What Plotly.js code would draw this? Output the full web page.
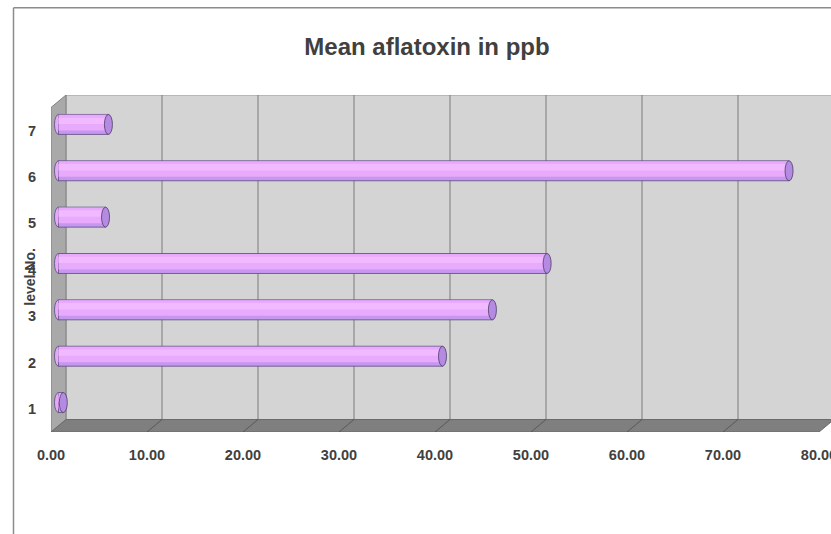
<!DOCTYPE html>
<html>
<head>
<meta charset="utf-8">
<script src="https://cdn.plot.ly/plotly-3.0.1.min.js"></script>
<style>html,body{margin:0;padding:0;background:#fff;}#chart{width:831px;height:534px;}</style>
</head>
<body>
<div id="chart"></div>
<script>
// ---- data ----
const categories = [1, 2, 3, 4, 5, 6, 7];
const values = [0.5, 40.0, 45.2, 50.9, 4.9, 76.1, 5.2];
const xTickVals = [0, 10, 20, 30, 40, 50, 60, 70, 80];
const xTickText = ['0.00', '10.00', '20.00', '30.00', '40.00', '50.00', '60.00', '70.00', '80.00'];
const yTickText = ['1', '2', '3', '4', '5', '6', '7'];
const chartTitle = 'Mean aflatoxin in ppb';
const yTitle = 'level No.';

// ---- geometry (pixels) ----
const L = 51, T = 95, B = 101.5, FIGW = 831, FIGH = 534;
const W = FIGW - L, H = FIGH - T - B;
const PX = 9.6;          // px per x unit
const PY = 325 / 7;      // px per category
const DXP = 15, DYP = 12.5; // 3-D depth offset
const dx = DXP / PX, dy = DYP / PY;
const xMax = W / PX, yMax = 0.5 + H / PY;
const barH = 20 / PY, capRx = 4 / PX;
const textColor = '#404040';
const fam = 'Liberation Sans, Arial, sans-serif';

const px2paperX = p => (p - L) / W;
const px2paperY = p => (T + H - p) / H;

const shapes = [];
// outer frame
shapes.push({type: 'line', xref: 'paper', yref: 'paper', x0: px2paperX(13.5), x1: px2paperX(13.5), y0: px2paperY(7.5), y1: px2paperY(540), line: {color: '#8c8c8c', width: 1.5}, layer: 'below'});
shapes.push({type: 'line', xref: 'paper', yref: 'paper', x0: px2paperX(13.5), x1: px2paperX(840), y0: px2paperY(7.5), y1: px2paperY(7.5), line: {color: '#8c8c8c', width: 1.5}, layer: 'below'});
// back wall
shapes.push({type: 'rect', xref: 'x', yref: 'y', x0: dx, x1: 90, y0: 0.5 + dy, y1: 7.5 + dy, fillcolor: '#d4d4d4', line: {color: '#9a9a9a', width: 1}, layer: 'below'});
// back wall gridlines
xTickVals.filter(t => t > 0).forEach(t => {
  shapes.push({type: 'line', xref: 'x', yref: 'y', x0: t + dx, x1: t + dx, y0: 0.5 + dy, y1: 7.5 + dy, line: {color: '#7a7a7a', width: 1}, layer: 'below'});
});
// left wall
shapes.push({type: 'path', xref: 'x', yref: 'y', path: `M 0 0.5 L 0 7.5 L ${dx} ${7.5 + dy} L ${dx} ${0.5 + dy} Z`, fillcolor: '#a9a9a9', line: {color: '#808080', width: 1}, layer: 'below'});
// floor
shapes.push({type: 'path', xref: 'x', yref: 'y', path: `M 0 0.5 L 80 0.5 L ${80 + dx} ${0.5 + dy} L ${dx} ${0.5 + dy} Z`, fillcolor: '#7f7f7f', line: {color: '#6a6a6a', width: 1}, layer: 'below'});
// floor diagonals
xTickVals.filter(t => t > 0 && t < 80).forEach(t => {
  shapes.push({type: 'line', xref: 'x', yref: 'y', x0: t, x1: t + dx, y0: 0.5, y1: 0.5 + dy, line: {color: '#4f4f4f', width: 0.8}, layer: 'below'});
});
// left caps of cylinders
categories.forEach((c, i) => {
  shapes.push({type: 'circle', xref: 'x2', yref: 'y2', x0: -capRx, x1: capRx, y0: c - barH / 2, y1: c + barH / 2, fillcolor: '#e6a8fb', line: {color: '#5e4a80', width: 0.8}, layer: 'below'});
});
// right caps of cylinders
categories.forEach((c, i) => {
  shapes.push({type: 'circle', xref: 'x2', yref: 'y2', x0: values[i] - capRx, x1: values[i] + capRx, y0: c - barH / 2, y1: c + barH / 2, fillcolor: '#b48ae2', line: {color: '#4d3d66', width: 0.8}, layer: 'above'});
});

const common = {type: 'bar', orientation: 'h', x: values, y: categories, xaxis: 'x2', yaxis: 'y2', hoverinfo: 'skip', showlegend: false};
const traces = [
  Object.assign({}, common, {width: barH, marker: {color: '#c597ee', line: {color: '#5e4a80', width: 0.8}}}),
  Object.assign({}, common, {width: barH * 0.78, offset: -barH / 2 + barH * 0.2, marker: {color: '#e8aafc', line: {width: 0}}}),
  Object.assign({}, common, {width: barH * 0.32, offset: barH * 0.02, marker: {color: '#f1b9ff', line: {width: 0}}})
];

const tickFont = {family: fam, size: 14.5, weight: 'bold', color: textColor};
const layout = {
  width: FIGW, height: FIGH,
  margin: {l: L, r: 0, t: T, b: B},
  paper_bgcolor: '#ffffff', plot_bgcolor: 'rgba(0,0,0,0)',
  barmode: 'overlay',
  showlegend: false,
  font: {family: fam, color: textColor},
  title: {text: chartTitle, font: {family: fam, size: 24, weight: 'bold', color: textColor}, x: 427 / FIGW, xref: 'container', xanchor: 'center', y: 1 - 47 / FIGH, yref: 'container', yanchor: 'middle'},
  xaxis: {range: [0, xMax], tickvals: xTickVals, ticktext: xTickText, ticks: 'outside', ticklen: 10, tickcolor: 'rgba(0,0,0,0)', ticklabeloverflow: 'allow', showgrid: false, zeroline: false, showline: false, fixedrange: true, tickfont: tickFont},
  yaxis: {range: [0.5, yMax], tickvals: categories, ticktext: yTickText, ticks: 'outside', ticklen: 11, tickcolor: 'rgba(0,0,0,0)', showgrid: false, zeroline: false, showline: false, fixedrange: true, tickfont: tickFont},
  xaxis2: {overlaying: 'x', range: [-dx / 2, xMax - dx / 2], visible: false, fixedrange: true},
  yaxis2: {overlaying: 'y', range: [0.5 - dy / 2, yMax - dy / 2], visible: false, fixedrange: true},
  shapes: shapes,
  annotations: [{text: yTitle, xref: 'paper', yref: 'paper', x: px2paperX(30), y: px2paperY(277), textangle: -90, showarrow: false, xanchor: 'center', yanchor: 'middle', font: {family: fam, size: 14, weight: 'bold', color: textColor}}]
};

Plotly.newPlot('chart', traces, layout, {staticPlot: true, displayModeBar: false});
</script>
</body>
</html>
